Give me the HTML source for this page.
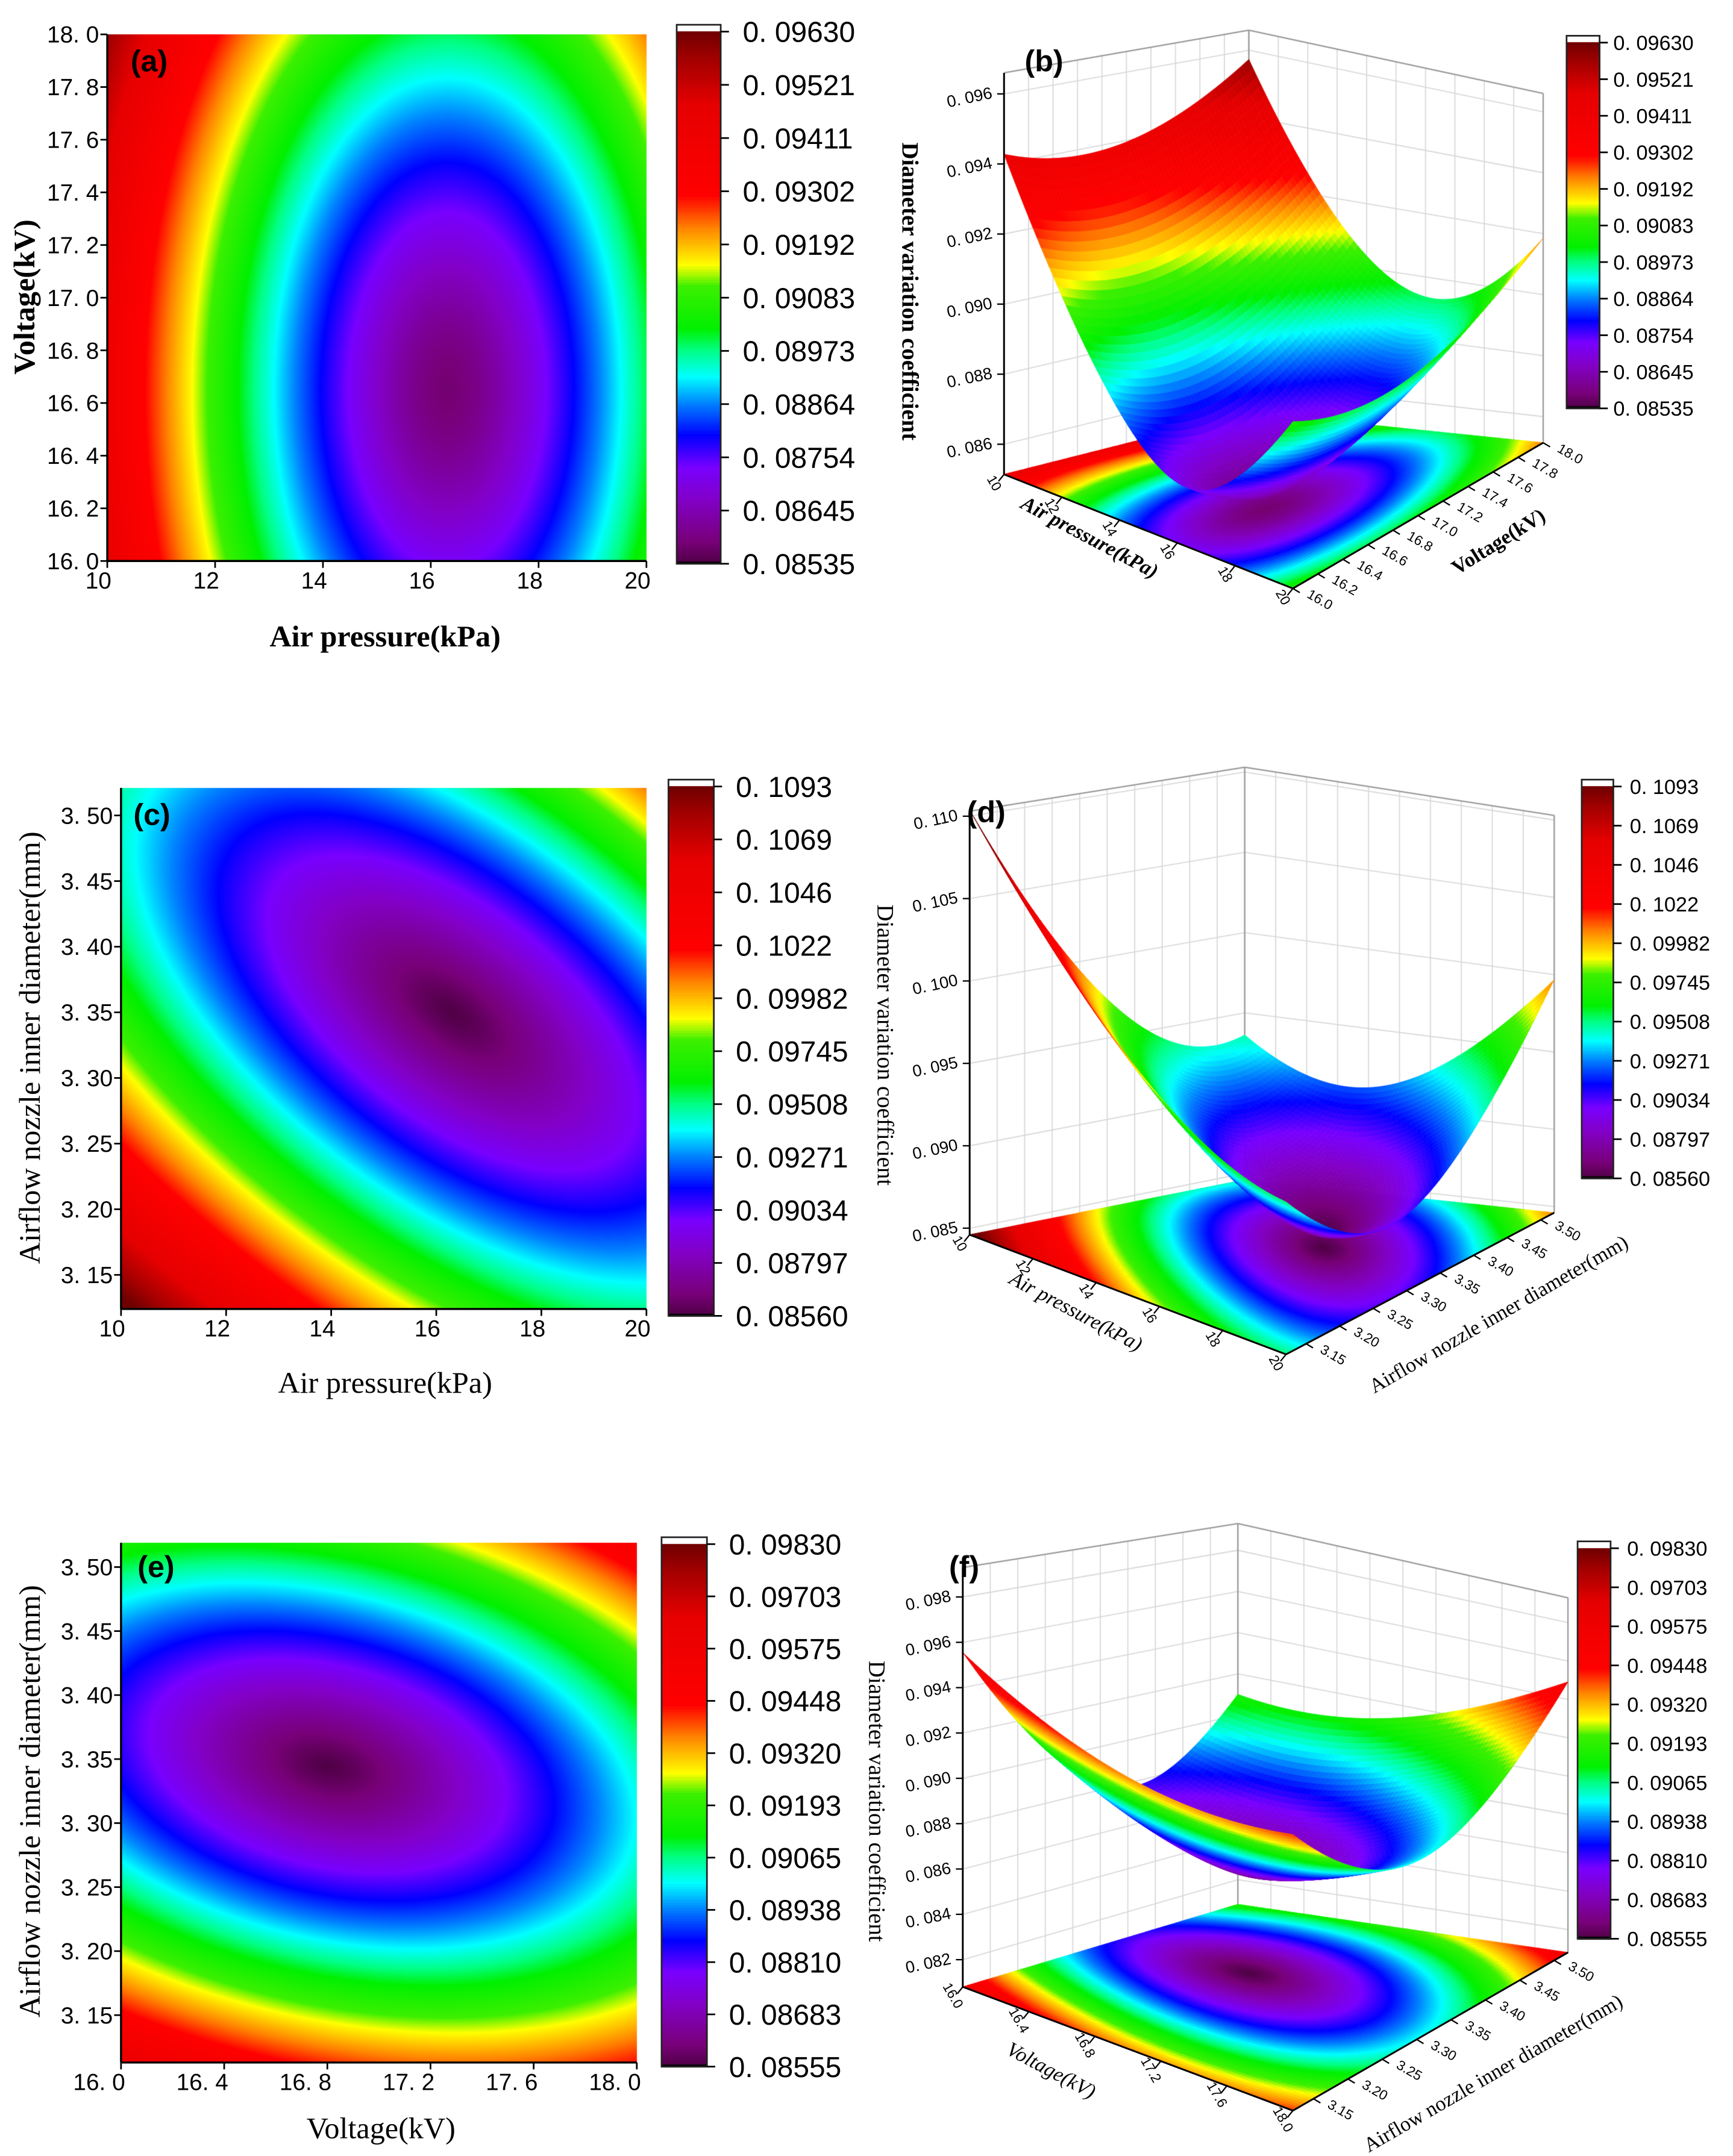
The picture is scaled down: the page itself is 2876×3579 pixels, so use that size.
<!DOCTYPE html>
<html><head><meta charset="utf-8">
<style>
html,body{margin:0;padding:0;background:#fff;}
#wrap{position:relative;width:2876px;height:3579px;overflow:hidden;background:#fff;}
#cv{position:absolute;left:0;top:0;}
#ov{position:absolute;left:0;top:0;}
text{font-family:"Liberation Sans",sans-serif;fill:#000;}
.serif{font-family:"Liberation Serif",serif;}
</style></head>
<body>
<div id="wrap">
<canvas id="cv" width="2876" height="3579"></canvas>
<svg id="ov" width="2876" height="3579" viewBox="0 0 1260 1568" preserveAspectRatio="none">
  <text x="95" y="52" font-size="22" font-weight="bold">(a)</text>
  <text x="745" y="52" font-size="22" font-weight="bold">(b)</text>
  <text x="97" y="600" font-size="22" font-weight="bold">(c)</text>
  <text x="703" y="598" font-size="22" font-weight="bold">(d)</text>
  <text x="100" y="1147" font-size="22" font-weight="bold">(e)</text>
  <text x="690" y="1147" font-size="22" font-weight="bold">(f)</text>
  <text class="serif" x="280" y="470" font-size="22" font-weight="bold" text-anchor="middle">Air pressure(kPa)</text>
  <text class="serif" transform="translate(25,216) rotate(-90)" font-size="22" font-weight="bold" text-anchor="middle">Voltage(kV)</text>
  <text class="serif" x="280" y="1013" font-size="22" text-anchor="middle">Air pressure(kPa)</text>
  <text class="serif" transform="translate(29,762) rotate(-90)" font-size="22" text-anchor="middle">Airflow nozzle inner diameter(mm)</text>
  <text class="serif" x="277" y="1555" font-size="22" text-anchor="middle">Voltage(kV)</text>
  <text class="serif" transform="translate(29,1310) rotate(-90)" font-size="22" text-anchor="middle">Airflow nozzle inner diameter(mm)</text>
  <text class="serif" transform="translate(656,212) rotate(90)" font-size="17" font-weight="bold" text-anchor="middle">Diameter variation coefficient</text>
  <text class="serif" transform="translate(638,760) rotate(90)" font-size="17" text-anchor="middle">Diameter variation coefficient</text>
  <text class="serif" transform="translate(632,1310) rotate(90)" font-size="17" text-anchor="middle">Diameter variation coefficient</text>
  <text class="serif" transform="translate(790,395) rotate(28)" font-size="15" font-weight="bold" font-style="italic" text-anchor="middle">Air pressure(kPa)</text>
  <text class="serif" transform="translate(1092,398) rotate(-32)" font-size="15" font-weight="bold" text-anchor="middle">Voltage(kV)</text>
  <text class="serif" transform="translate(780,958) rotate(28)" font-size="15" font-style="italic" text-anchor="middle">Air pressure(kPa)</text>
  <text class="serif" transform="translate(1092,960) rotate(-30)" font-size="15" text-anchor="middle">Airflow nozzle inner diameter(mm)</text>
  <text class="serif" transform="translate(762,1510) rotate(28)" font-size="15" font-style="italic" text-anchor="middle">Voltage(kV)</text>
  <text class="serif" transform="translate(1088,1512) rotate(-30)" font-size="15" text-anchor="middle">Airflow nozzle inner diameter(mm)</text>
  <g id="dyn"></g>
</svg>
</div>
<script>
// ---- data (response-surface coefficients) ----
const surfA_center = [16.3, 16.65];
const surfA_scale = [1, 1];
const surfA_coef = [0.0854, 0.00019, 0.0014, 0.0];
const surfC_center = [16.3, 3.35];
const surfC_scale = [1, 0.2];
const surfC_coef = [0.0856, 0.000186, 0.0064, 0.0013];
const surfE_center = [16.8, 3.345];
const surfE_scale = [1, 0.2];
const surfE_coef = [0.08555, 0.0018, 0.005, 0.0017];

const ticksA_x = [10, 12, 14, 16, 18, 20];
const ticksA_y = [16.0, 16.2, 16.4, 16.6, 16.8, 17.0, 17.2, 17.4, 17.6, 17.8, 18.0];
const ticksC_x = [10, 12, 14, 16, 18, 20];
const ticksC_y = [3.15, 3.20, 3.25, 3.30, 3.35, 3.40, 3.45, 3.50];
const ticksE_x = [16.0, 16.4, 16.8, 17.2, 17.6, 18.0];
const ticksE_y = [3.15, 3.20, 3.25, 3.30, 3.35, 3.40, 3.45, 3.50];
const cbarA_labels = ["0. 08535","0. 08645","0. 08754","0. 08864","0. 08973","0. 09083","0. 09192","0. 09302","0. 09411","0. 09521","0. 09630"];
const cbarC_labels = ["0. 08560","0. 08797","0. 09034","0. 09271","0. 09508","0. 09745","0. 09982","0. 1022","0. 1046","0. 1069","0. 1093"];
const cbarE_labels = ["0. 08555","0. 08683","0. 08810","0. 08938","0. 09065","0. 09193","0. 09320","0. 09448","0. 09575","0. 09703","0. 09830"];
const ticksB_z = [0.086, 0.088, 0.090, 0.092, 0.094, 0.096];
const ticksD_z = [0.085, 0.090, 0.095, 0.100, 0.105, 0.110];
const ticksF_z = [0.082, 0.084, 0.086, 0.088, 0.090, 0.092, 0.094, 0.096, 0.098];
const ticksB_y = [16.0, 16.2, 16.4, 16.6, 16.8, 17.0, 17.2, 17.4, 17.6, 17.8, 18.0];
const ticksD_y = [3.15, 3.20, 3.25, 3.30, 3.35, 3.40, 3.45, 3.50];

// ---- rendering ----
const S = 2876/1260;
const GAM = 0.62;
const HGAM = 0.7;
const cv = document.getElementById('cv');
const ctx = cv.getContext('2d');
const NS = 'http://www.w3.org/2000/svg';
const dyn = document.getElementById('dyn');

const stops = [[0,[80,0,70]],[0.04,[120,0,120]],[0.12,[130,0,200]],[0.18,[120,0,255]],[0.24,[0,0,255]],[0.30,[0,130,255]],[0.35,[0,255,255]],[0.40,[0,255,130]],[0.44,[0,240,0]],[0.52,[60,240,0]],[0.56,[255,255,0]],[0.63,[255,130,0]],[0.69,[255,0,0]],[0.86,[230,0,0]],[0.95,[160,0,0]],[1,[110,0,0]]];
function cmap(f){
  f=Math.max(0,Math.min(1,f));
  for(let i=1;i<stops.length;i++){
    if(f<=stops[i][0]){const a=stops[i-1],b=stops[i];const t=(f-a[0])/(b[0]-a[0]);
      return [0,1,2].map(k=>Math.round(a[1][k]+(b[1][k]-a[1][k])*t));}
  }
  return stops[stops.length-1][1];
}
function zcol(z,zr){let f=(z-zr[0])/(zr[1]-zr[0]);f=Math.max(0,Math.min(1,f));return cmap(Math.pow(f,GAM));}
function zh(z,zr){let f=(z-zr[0])/(zr[1]-zr[0]);f=Math.max(0,f);return zr[0]+(zr[1]-zr[0])*Math.pow(f,HGAM);}
function model(cen,sc,co,x,y){const u=(x-cen[0])/sc[0],v=(y-cen[1])/sc[1];return co[0]+co[1]*u*u+co[2]*v*v+co[3]*u*v;}

function addText(x,y,str,size,anchor,name,rot,extra){
  const t=document.createElementNS(NS,'text');
  
  
  if(rot){t.setAttribute('transform','translate('+x+','+y+') rotate('+rot+')');}
  else{t.setAttribute('x',x);t.setAttribute('y',y);}
  t.setAttribute('font-size',size);
  t.setAttribute('text-anchor',anchor);
  if(extra) t.setAttribute('font-weight',extra);
  t.textContent=str;dyn.appendChild(t);return t;
}
function addLine(x1,y1,x2,y2,col,w,name){
  const l=document.createElementNS(NS,'line');
  
  
  l.setAttribute('x1',x1);l.setAttribute('y1',y1);l.setAttribute('x2',x2);l.setAttribute('y2',y2);
  l.setAttribute('stroke',col);l.setAttribute('stroke-width',w);dyn.appendChild(l);
}

function heat(p){
  const X0=Math.round(p.r[0]*S),X1=Math.round(p.r[1]*S),Y0=Math.round(p.r[2]*S),Y1=Math.round(p.r[3]*S);
  const W=X1-X0,H=Y1-Y0;const img=ctx.createImageData(W,H);
  for(let j=0;j<H;j++){const y=p.yd[1]-(j/H)*(p.yd[1]-p.yd[0]);
    for(let i=0;i<W;i++){const x=p.xd[0]+(i/W)*(p.xd[1]-p.xd[0]);
      const c=zcol(model(p.cen,p.sc,p.co,x,y),p.zr);
      const o=(j*W+i)*4;img.data[o]=c[0];img.data[o+1]=c[1];img.data[o+2]=c[2];img.data[o+3]=255;}}
  ctx.putImageData(img,X0,Y0);
  const [x0,x1,y0,y1]=p.r;
  addLine(x0,y1,x1,y1,'#000',1.5,p.id+'-x-axis');
  addLine(x0,y0,x0,y1,'#000',1.5,p.id+'-y-axis');
  p.xt.forEach((v,i)=>{const X=x0+(v-p.xd[0])/(p.xd[1]-p.xd[0])*(x1-x0);
    addLine(X,y1,X,y1+5,'#000',1.2,p.id+'-x-tick');
    addText(X+3,y1+20,p.xl[i],17,'end',p.id+'-x-tick-label');});
  p.yt.forEach((v,i)=>{const Y=y1-(v-p.yd[0])/(p.yd[1]-p.yd[0])*(y1-y0);
    addLine(x0-5,Y,x0,Y,'#000',1.2,p.id+'-y-tick');
    addText(x0-6,Y+6,p.yl[i],17,'end',p.id+'-y-tick-label');});
}
function cbar(c){
  const [x0,x1,y0,y1]=c.r;
  for(let k=0;k<200;k++){const f=k/200;const col=cmap(f);ctx.fillStyle='rgb('+col+')';
    const ya=y1-(k+1)/200*(y1-y0),yb=y1-k/200*(y1-y0);
    ctx.fillRect(x0*S,Math.floor(ya*S),(x1-x0)*S,Math.ceil((yb-ya)*S)+1);}
  ctx.fillStyle='#000';ctx.fillRect(x0*S,(y1-1.5)*S,(x1-x0)*S,2*S);
  const r=document.createElementNS(NS,'rect');
  
  
  r.setAttribute('x',x0);r.setAttribute('y',y0-5);r.setAttribute('width',x1-x0);r.setAttribute('height',y1-y0+5);
  r.setAttribute('fill','none');r.setAttribute('stroke','#222');r.setAttribute('stroke-width',1.2);dyn.appendChild(r);
  ctx.fillStyle='#fff';ctx.fillRect(x0*S+2,(y0-4.5)*S,(x1-x0)*S-4,3*S);
  c.labels.forEach((s,i)=>{const Y=y1-i/(c.labels.length-1)*(y1-y0);
    addLine(x1,Y,x1+6,Y,'#000',1.2,c.id+'-colorbar-tick');
    addText(x1+c.gap,Y+c.fs*0.36,s,c.fs,'start',c.id+'-colorbar-label');});
}

function bil(q,s,t){return q[0]*(1-s)*(1-t)+q[1]*s*(1-t)+q[2]*s*t+q[3]*(1-s)*t;}
function mk3(p){
  const L=p.L,B=p.B,R=p.R,K=p.K;
  const qx=[L[0],B[0],R[0],K[0]],qy=[L[1],B[1],R[1],K[1]],qh=p.H;
  return function(s,t,z){const h=(z-p.zf)/(p.zt-p.zf);return [bil(qx,s,t),bil(qy,s,t)-bil(qh,s,t)*h];};
}
function draw3d(p){
  const P=mk3(p);
  ctx.save();ctx.setTransform(S,0,0,S,0,0);
  ctx.strokeStyle='#d8d8d8';ctx.lineWidth=0.8;
  function ln(a,b){ctx.beginPath();ctx.moveTo(a[0],a[1]);ctx.lineTo(b[0],b[1]);ctx.stroke();}
  p.zt_ticks.forEach(z=>{ln(P(0,0,z),P(0,1,z));ln(P(0,1,z),P(1,1,z));});
  for(let k=0;k<=10;k++){const f=k/10;ln(P(0,f,p.zf),P(0,f,p.zt));ln(P(f,1,p.zf),P(f,1,p.zt));}
  ctx.strokeStyle='#999';ctx.lineWidth=1;
  ln(P(0,1,p.zf),P(0,1,p.zt));ln(P(1,1,p.zf),P(1,1,p.zt));
  ln(P(0,0,p.zt),P(0,1,p.zt));ln(P(0,1,p.zt),P(1,1,p.zt));
  const NF=90;
  for(let i=0;i<NF;i++)for(let j=0;j<NF;j++){
    const s=(i+0.5)/NF,t=(j+0.5)/NF;
    const x=p.xd[0]+s*(p.xd[1]-p.xd[0]),y=p.yd[0]+t*(p.yd[1]-p.yd[0]);
    const c=zcol(model(p.cen,p.sc,p.co,x,y),p.zr);
    const a=P(i/NF,j/NF,p.zf),b=P((i+1)/NF,j/NF,p.zf),d=P((i+1)/NF,(j+1)/NF,p.zf),e=P(i/NF,(j+1)/NF,p.zf);
    ctx.fillStyle=ctx.strokeStyle='rgb('+c+')';ctx.lineWidth=0.5;
    ctx.beginPath();ctx.moveTo(a[0],a[1]);ctx.lineTo(b[0],b[1]);ctx.lineTo(d[0],d[1]);ctx.lineTo(e[0],e[1]);ctx.closePath();ctx.fill();ctx.stroke();}
  const N=70;const quads=[];
  for(let i=0;i<N;i++)for(let j=0;j<N;j++)quads.push([i,j,(1-(i+0.5)/N)+(j+0.5)/N]);
  quads.sort((a,b)=>b[2]-a[2]);
  const zv=(s,t)=>model(p.cen,p.sc,p.co,p.xd[0]+s*(p.xd[1]-p.xd[0]),p.yd[0]+t*(p.yd[1]-p.yd[0]));
  const Pz=(s,t)=>P(s,t,zh(zv(s,t),p.zr));
  quads.forEach(q=>{const i=q[0],j=q[1];
    const s0=i/N,s1=(i+1)/N,t0=j/N,t1=(j+1)/N;
    const a=Pz(s0,t0),b=Pz(s1,t0),d=Pz(s1,t1),e=Pz(s0,t1);
    const c=zcol(zv((s0+s1)/2,(t0+t1)/2),p.zr);
    ctx.fillStyle=ctx.strokeStyle='rgb('+c+')';ctx.lineWidth=0.35;
    ctx.beginPath();ctx.moveTo(a[0],a[1]);ctx.lineTo(b[0],b[1]);ctx.lineTo(d[0],d[1]);ctx.lineTo(e[0],e[1]);ctx.closePath();ctx.fill();ctx.stroke();});
  ctx.restore();
  const l0=P(0,0,p.zf),l1=P(0,0,p.zt),b0=P(1,0,p.zf),r0=P(1,1,p.zf);
  addLine(l0[0],l0[1],l1[0],l1[1],'#000',1.3,p.id+'-z-axis');
  addLine(l0[0],l0[1],b0[0],b0[1],'#000',1.3,p.id+'-x-axis');
  addLine(b0[0],b0[1],r0[0],r0[1],'#000',1.3,p.id+'-y-axis');
  p.zt_ticks.forEach((z,i)=>{const a=P(0,0,z);
    addLine(a[0]-5,a[1],a[0],a[1],'#000',1,p.id+'-z-tick');
    addText(a[0]-8,a[1]+3,p.zl[i],12,'end',p.id+'-z-tick-label',-12);});
  p.xt.forEach((v,i)=>{const s=(v-p.xd[0])/(p.xd[1]-p.xd[0]);const a=P(s,0,p.zf);
    addLine(a[0],a[1],a[0]-4,a[1]+5,'#000',1,p.id+'-x-tick');
    addText(a[0]-10,a[1]+8,p.xl[i],10,'middle',p.id+'-x-tick-label',60);});
  p.yt.forEach((v,i)=>{const t=(v-p.yd[0])/(p.yd[1]-p.yd[0]);const a=P(1,t,p.zf);
    addLine(a[0],a[1],a[0]+5,a[1]+3,'#000',1,p.id+'-y-tick');
    addText(a[0]+18,a[1]+11,p.yl[i],10,'middle',p.id+'-y-tick-label',30);});
}

const fmt=(a,d)=>a.map(v=>v.toFixed(d).replace('.','. '));

heat({id:'a',r:[78,470,25,408],xd:[10,20],yd:[16,18],cen:surfA_center,sc:surfA_scale,co:surfA_coef,zr:[0.08535,0.0963],
  xt:ticksA_x,xl:ticksA_x.map(String),yt:ticksA_y,yl:fmt(ticksA_y,1)});
heat({id:'c',r:[88,470,573,952],xd:[10,20],yd:[3.124,3.521],cen:surfC_center,sc:surfC_scale,co:surfC_coef,zr:[0.0856,0.1093],
  xt:ticksC_x,xl:ticksC_x.map(String),yt:ticksC_y,yl:fmt(ticksC_y,2)});
heat({id:'e',r:[88,463,1122,1500],xd:[16,18],yd:[3.113,3.519],cen:surfE_center,sc:surfE_scale,co:surfE_coef,zr:[0.08555,0.0983],
  xt:ticksE_x,xl:fmt(ticksE_x,1),yt:ticksE_y,yl:fmt(ticksE_y,2)});

cbar({id:'a',r:[492,524,23,410],labels:cbarA_labels,fs:21,gap:16});
cbar({id:'b',r:[1139,1163,31,297],labels:cbarA_labels,fs:15,gap:10});
cbar({id:'c',r:[486,519,572,957],labels:cbarC_labels,fs:21,gap:16});
cbar({id:'d',r:[1150,1173,572,857],labels:cbarC_labels,fs:15,gap:12});
cbar({id:'e',r:[481,514,1123,1503],labels:cbarE_labels,fs:21,gap:16});
cbar({id:'f',r:[1147,1171,1126,1410],labels:cbarE_labels,fs:15,gap:12});

draw3d({id:'b',L:[730,345],B:[940,428],R:[1122,322],K:[908,300],H:[292,285,254,278],zf:0.08514,zt:0.0966,
  xd:[10,20],yd:[16,18],cen:surfA_center,sc:surfA_scale,co:surfA_coef,zr:[0.08535,0.0963],
  zt_ticks:ticksB_z,zl:fmt(ticksB_z,3),xt:ticksA_x,xl:ticksA_x.map(String),yt:ticksB_y,yl:ticksB_y.map(v=>v.toFixed(1))});
draw3d({id:'d',L:[705,898],B:[935,985],R:[1130,882],K:[905,858],H:[308,300,289,300],zf:0.0846,zt:0.1103,
  xd:[10,20],yd:[3.12,3.52],cen:surfC_center,sc:surfC_scale,co:surfC_coef,zr:[0.0856,0.1093],
  zt_ticks:ticksD_z,zl:fmt(ticksD_z,3),xt:ticksC_x,xl:ticksC_x.map(String),yt:ticksD_y,yl:ticksD_y.map(v=>v.toFixed(2))});
draw3d({id:'f',L:[700,1445],B:[940,1535],R:[1140,1420],K:[900,1385],H:[305,290,258,277],zf:0.0808,zt:0.0993,
  xd:[16,18],yd:[3.12,3.52],cen:surfE_center,sc:surfE_scale,co:surfE_coef,zr:[0.08555,0.0983],
  zt_ticks:ticksF_z,zl:fmt(ticksF_z,3),xt:ticksE_x,xl:ticksE_x.map(v=>v.toFixed(1)),yt:ticksD_y,yl:ticksD_y.map(v=>v.toFixed(2))});
</script>
</body></html>
